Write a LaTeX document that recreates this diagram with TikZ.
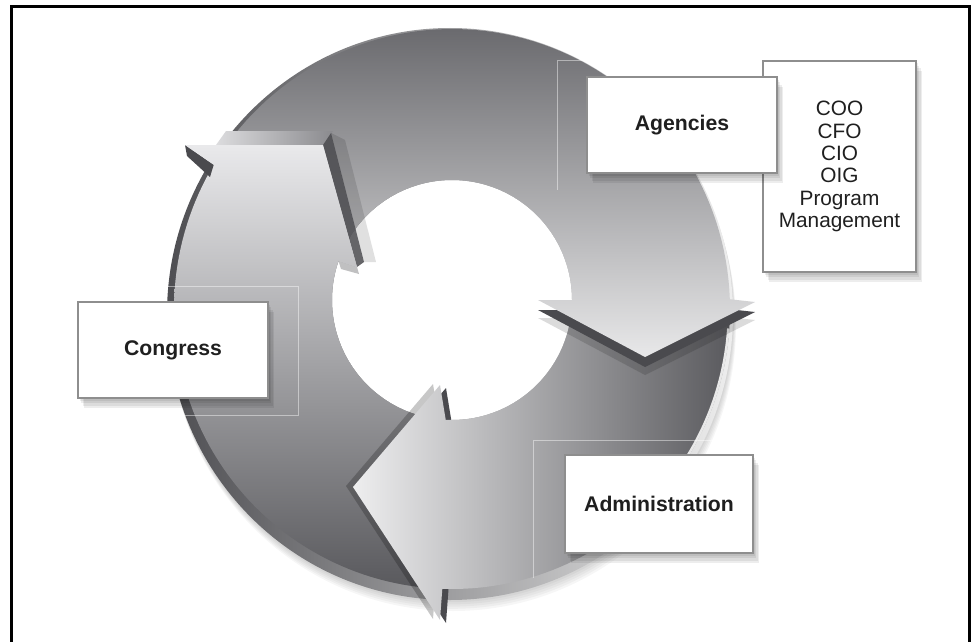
\documentclass[tikz,border=0pt]{standalone}
\usepackage{fontspec}
\setmainfont{Liberation Sans}
\usetikzlibrary{shadows}
\definecolor{boxedge}{HTML}{8E8E8E}
\definecolor{rimdark}{HTML}{4E4E52}
\definecolor{rimmid}{HTML}{B4B4B6}
\definecolor{rimlight}{HTML}{EEEEEE}
\definecolor{aonetop}{HTML}{69696D}
\definecolor{aonemid}{HTML}{A6A6AA}
\definecolor{aonebot}{HTML}{EDEDEE}
\definecolor{atwoleft}{HTML}{EFEFF0}
\definecolor{atwomid}{HTML}{A6A6AA}
\definecolor{atworight}{HTML}{58585C}
\definecolor{athreetop}{HTML}{EBEBED}
\definecolor{athreemid}{HTML}{B0B0B4}
\definecolor{athreebot}{HTML}{555559}
\definecolor{headside}{HTML}{4A4A4E}
\definecolor{bandlight}{HTML}{DCDCDE}
\definecolor{banddark}{HTML}{8A8A8E}

\def\arrowOnePath{plot[domain=218:358,samples=70] ({452+278*cos(\x)},{309+280*sin(\x)}) -- (755,302) -- (645,357) -- (538,300) -- plot[domain=360:208,samples=70] ({452+120*cos(\x)},{300+120*sin(\x)}) -- cycle}
\def\arrowOneHead{(729.8,299.2) -- (755,302) -- (645,357) -- (538,300) -- (572,300) -- cycle}
\def\arrowTwoPath{plot[domain=1:92,samples=60] ({452+278*cos(\x)},{309+280*sin(\x)}) -- (440,620) -- (353,487) -- (440,385) -- plot[domain=93:6,samples=60] ({452+120*cos(\x)},{300+120*sin(\x)}) -- cycle}
\def\arrowTwoHead{(442.3,588.8) -- (440,620) -- (353,487) -- (440,385) -- (445.7,419.8) -- cycle}
\def\arrowThreePath{plot[domain=95:211,samples=70] ({452+278*cos(\x)},{309+280*sin(\x)}) -- (185,145) -- (323,145) -- (357,267) -- plot[domain=199:100,samples=70] ({452+120*cos(\x)},{300+120*sin(\x)}) -- cycle}
\def\arrowThreeHead{(213.7,164.8) -- (185,145) -- (323,145) -- (357,267) -- (338.5,260.9) -- cycle}

\begin{document}
\begin{tikzpicture}[x=1pt,y=-1pt,
  softshadow/.style={
    general shadow={fill=black, opacity=0.07, shadow xshift=1.5, shadow yshift=2.5},
    general shadow={fill=black, opacity=0.07, shadow xshift=3, shadow yshift=5},
    general shadow={fill=black, opacity=0.07, shadow xshift=4.5, shadow yshift=7.5},
    general shadow={fill=black, opacity=0.07, shadow xshift=6, shadow yshift=10}},
  labelbox/.style={softshadow, draw=boxedge, line width=2, fill=white, inner sep=0,
    font=\fontsize{21.2}{25}\selectfont\bfseries, text=black!88},
  listbox/.style={softshadow, draw=boxedge, line width=2, fill=white, inner sep=0, align=center,
    font=\fontsize{20.8}{22.3}\selectfont, text=black!88},
  faint/.style={white, opacity=0.45, line width=0.8}]
\useasboundingbox (0,0) rectangle (977,642);
\begin{scope}
\clip (0,0) rectangle (977,642);

% soft shadow of the ring
\foreach \k in {1,...,5}{
  \fill[black, opacity=0.035, even odd rule] ({450+0.6*\k},{314+2.2*\k}) ellipse [x radius=283, y radius=286] (452,300) circle [radius=120];
}
% rim of the ring
\shade[even odd rule, left color=rimdark, middle color=rimmid, right color=rimlight]
  (450,314) ellipse [x radius=283, y radius=286] (452,300) circle [radius=120];

% arrow 3 (Congress, left)
\begin{scope}
  \clip \arrowThreePath;
  \shade[top color=athreetop, middle color=athreemid, bottom color=athreebot] (160,140) rectangle (470,600);
\end{scope}

% arrow 2 (Administration, bottom right)
\fill[black, opacity=0.22, shift={(-7,-1)}] \arrowTwoHead;
\fill[headside, shift={(6,3)}] \arrowTwoHead;
\begin{scope}
  \clip \arrowTwoPath;
  \shade[left color=atwoleft, middle color=atwomid, right color=atworight] (350,290) rectangle (735,625);
\end{scope}
\draw[white!82!gray, line width=2.5] plot[domain=4:42,samples=30] ({452+277*cos(\x)},{309+279*sin(\x)});

% arrow 1 (Agencies, top)
\fill[black, opacity=0.14, shift={(0,18)}] \arrowOneHead;
\fill[headside, shift={(0,10)}] \arrowOneHead;
\begin{scope}
  \clip \arrowOnePath;
  \shade[top color=aonetop, middle color=aonemid, bottom color=aonebot] (150,25) rectangle (780,370);
\end{scope}

% head of arrow 3 drawn again over the tail of arrow 1
\shade[left color=bandlight, right color=banddark] (216,145) -- (226,131) -- (333,131) -- (323,145) -- cycle;
\fill[headside, opacity=0.85] (323,145) -- (331,133) -- (364,262) -- (357,267) -- cycle;
\fill[black, opacity=0.12] (331,133) -- (345,140) -- (376,262) -- (364,262) -- cycle;
\fill[headside] (185,145) -- (213.7,164.8) -- (210,177) -- (187,156) -- cycle;
\fill[headside, opacity=0.35] (357,267) -- (338.5,260.9) -- (341,269) -- (359,274) -- cycle;
\begin{scope}
  \clip \arrowThreeHead;
  \shade[top color=athreetop, middle color=athreemid, bottom color=athreebot] (160,140) rectangle (470,600);
\end{scope}

% faint guide lines
\draw[faint] (145,286) rectangle (298,415);
\draw[faint] (557,190) -- (557,60) -- (600,60);
\draw[faint] (720,440) -- (533,440) -- (533,578);

% boxes
\node[listbox, minimum width=153, minimum height=211] (roles) at (839.5,166.5)
  {COO\\CFO\\CIO\\OIG\\Program\\Management};
\node[labelbox, minimum width=190, minimum height=96] (agencies) at (682,125) {Agencies};
\node[labelbox, minimum width=190, minimum height=96] (congress) at (173,350) {Congress};
\node[labelbox, minimum width=188, minimum height=98] (administration) at (659,504) {Administration};

% frame
\draw[line width=3, line join=miter] (11,700) -- (11,6.5) -- (969,6.5) -- (969,700);
\end{scope}
\end{tikzpicture}
\end{document}
